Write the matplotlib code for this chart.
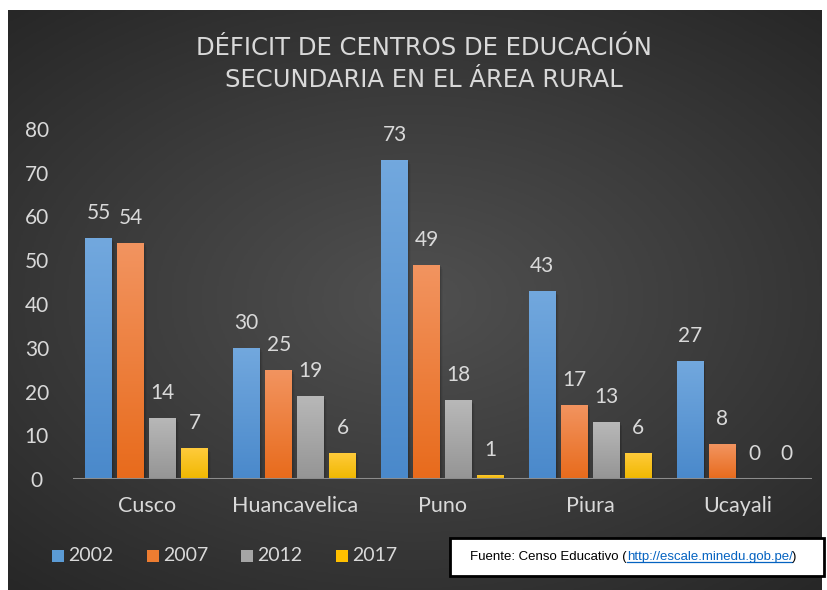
import numpy as np
import matplotlib
matplotlib.use("Agg")
import matplotlib.pyplot as plt
from matplotlib.patches import Rectangle
from matplotlib.lines import Line2D
from matplotlib.colors import LinearSegmentedColormap

categories = ["Cusco", "Huancavelica", "Puno", "Piura", "Ucayali"]
series_names = ["2002", "2007", "2012", "2017"]
v2002 = [55, 30, 73, 43, 27]
v2007 = [54, 25, 49, 17, 8]
v2012 = [14, 19, 18, 13, 0]
v2017 = [7, 6, 1, 6, 0]
series_values = [v2002, v2007, v2012, v2017]
yticks = [0, 10, 20, 30, 40, 50, 60, 70, 80]
title_lines = ["DÉFICIT DE CENTROS DE EDUCACIÓN", "SECUNDARIA EN EL ÁREA RURAL"]
source_parts = ["Fuente: Censo Educativo (", "http://escale.minedu.gob.pe/", ")"]

grad_colors = [("#72a8de", "#4a89cb"),
               ("#f29460", "#e86b1c"),
               ("#b8b8b8", "#959595"),
               ("#ffcb3c", "#f0b800")]
legend_colors = ["#5b9bd5", "#ed7d31", "#a5a5a5", "#ffc000"]
txt_col = "#d9d9d9"

plt.rcParams['font.family'] = ['Lato', 'DejaVu Sans']

W, H = 827, 590
fig = plt.figure(figsize=(W / 100, H / 100), dpi=100)
fig.patch.set_facecolor("white")

# background panel with radial gradient
bg = fig.add_axes([8 / W, 0, (822 - 8) / W, (590 - 10) / H])
bg.set_axis_off()
yy, xx = np.mgrid[-1:1:300j, -1:1:400j]
rr = np.sqrt((xx * 0.9) ** 2 + (yy * 1.0) ** 2)
bgcm = LinearSegmentedColormap.from_list("bg", ["#505050", "#3c3c3c", "#272727"])
bg.imshow(np.clip(rr / 1.35, 0, 1), cmap=bgcm, vmin=0, vmax=1, aspect="auto",
          extent=[0, 1, 0, 1], interpolation="bilinear")
bg.set_xlim(0, 1)
bg.set_ylim(0, 1)

ax = fig.add_axes([73 / W, 1 - 479 / H, (812 - 73) / W, (479 - 129) / H])
ax.set_facecolor("none")
ax.set_xlim(-0.5, len(categories) - 0.5)
ax.set_ylim(0, 80)

x = np.arange(len(categories))
bw = 27 / 148
step = 32 / 148
for i, (vals, (ctop, cbot)) in enumerate(zip(series_values, grad_colors)):
    pos = x + (i - 1.5) * step
    bars = ax.bar(pos, vals, width=bw, color=ctop, zorder=3, linewidth=0)
    cm = LinearSegmentedColormap.from_list("g%d" % i, [cbot, ctop])
    for b, v in zip(bars, vals):
        if v > 0:
            x0, w = b.get_x(), b.get_width()
            # soft shadow
            for k, a in enumerate([0.10, 0.07, 0.04]):
                ax.add_patch(Rectangle((x0 + 0.006 * (k + 1), 0), w, v - 0.3 * (k + 1),
                                       facecolor="black", alpha=a, zorder=2, lw=0))
            grad = np.linspace(0, 1, 100).reshape(-1, 1)
            im = ax.imshow(grad, cmap=cm, aspect="auto", origin="lower",
                           extent=[x0, x0 + w, 0, v], zorder=3.5,
                           interpolation="bilinear")
            im.set_clip_path(b)
        ax.annotate(str(v), (b.get_x() + b.get_width() / 2, v),
                    xytext=(0, 18), textcoords="offset points",
                    ha="center", va="center", color=txt_col, fontsize=15)

ax.set_xlim(-0.5, len(categories) - 0.5)
ax.set_ylim(0, 80)
ax.set_yticks(yticks)
ax.set_xticks(x)
ax.set_xticklabels(categories)
ax.tick_params(axis="both", length=0, colors=txt_col, labelsize=15)
ax.tick_params(axis="x", pad=12, labelsize=15.5)
ax.tick_params(axis="y", pad=26)
for lab in ax.get_yticklabels():
    lab.set_horizontalalignment("center")
for s in ax.spines.values():
    s.set_visible(False)
ax.axhline(0, color="#8c8c8c", lw=2.2, zorder=4)

# title
for ty, line in zip([48, 80], title_lines):
    fig.text(424 / W, 1 - ty / H, line, ha="center", va="center",
             color=txt_col, fontsize=17.5, family="DejaVu Sans")

# legend
leg_sq_x = [52, 147, 241, 336]
for sx, name, c in zip(leg_sq_x, series_names, legend_colors):
    fig.patches.append(Rectangle((sx / W, 1 - 562 / H), 12 / W, 12 / H,
                                 transform=fig.transFigure, facecolor=c,
                                 edgecolor="none"))
    fig.text((sx + 16) / W, 1 - 555.5 / H, name, ha="left", va="center",
             color=txt_col, fontsize=14)

# source box
fig.patches.append(Rectangle((450 / W, 1 - 576 / H), (824 - 450) / W, (576 - 538) / H,
                             transform=fig.transFigure, facecolor="white",
                             edgecolor="black", linewidth=2, zorder=5))
fig.canvas.draw()
r = fig.canvas.get_renderer()
sfam = ['Liberation Sans', 'DejaVu Sans']
xs = 470
ycen = 1 - 557 / H
cols = ["black", "#0563c1", "black"]
for k, (part, c) in enumerate(zip(source_parts, cols)):
    t = fig.text(xs / W, ycen, part, ha="left", va="center", color=c,
                 fontsize=9.5, family=sfam, zorder=6)
    bb = t.get_window_extent(r)
    if k == 1:
        fig.lines.append(Line2D([bb.x0 / W, bb.x1 / W], [(bb.y0 + 1) / H, (bb.y0 + 1) / H],
                                transform=fig.transFigure, color=c, lw=0.9, zorder=6))
    xs = bb.x1

fig.savefig("out.png", dpi=100, facecolor="white")
